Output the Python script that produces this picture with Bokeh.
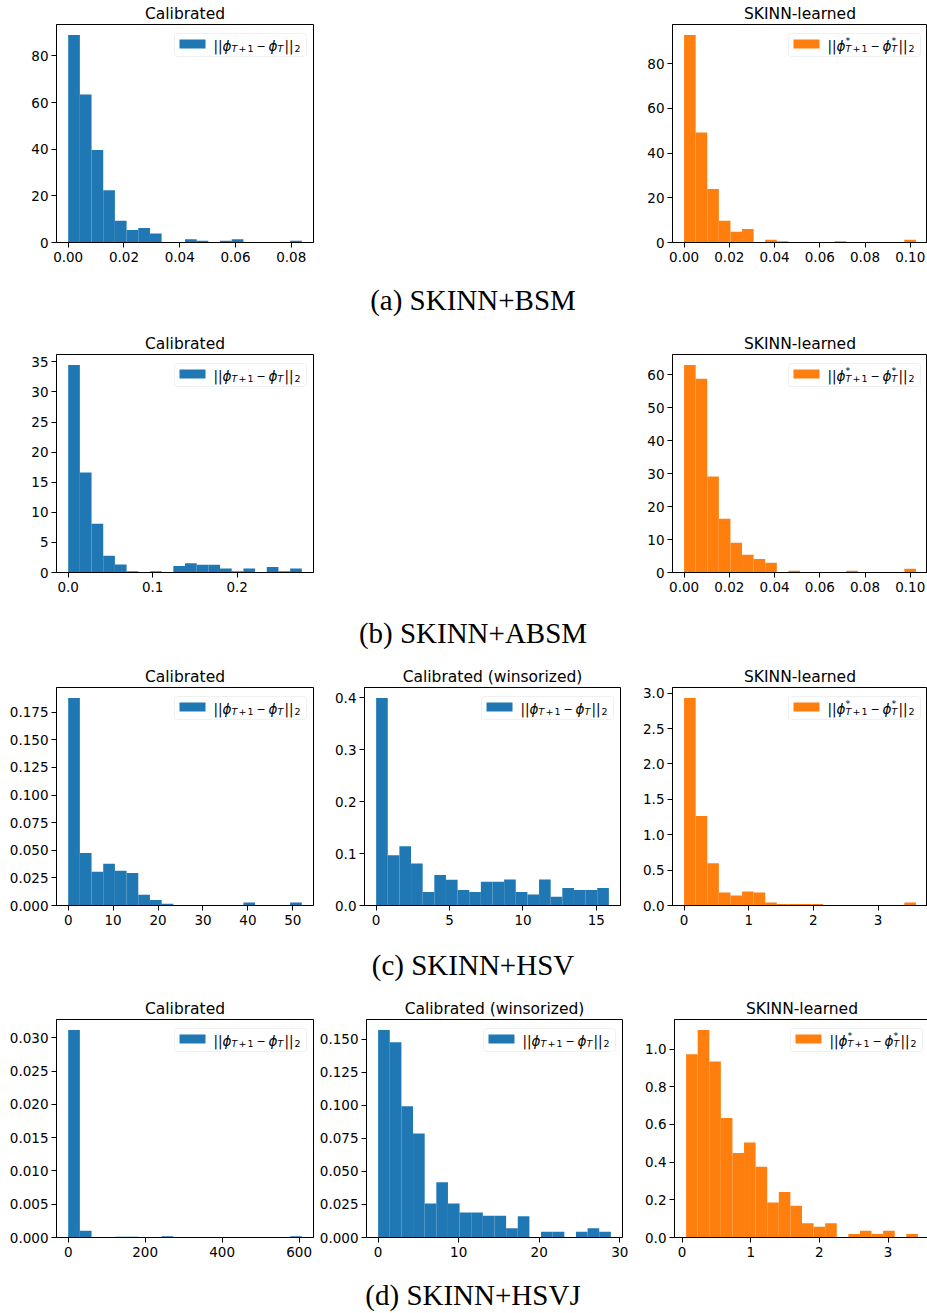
import numpy as np
from bokeh.plotting import figure
from bokeh.layouts import column, row
from bokeh.models import (FixedTicker, PrintfTickFormatter, BoxAnnotation, Label,
                          Div, Spacer, Range1d)
from bokeh.embed import file_html
from bokeh.resources import INLINE

BLUE = "#1f77b4"
ORANGE = "#ff7f0e"
FONT = "DejaVu Sans"

# ---------------- data (histogram densities, 20 equal bins each) ----------------
# (a) SKINN+BSM
a_cal_range = (0.0, 0.0838)
a_cal_density = [89.0, 63.4, 39.6, 22.4, 9.3, 5.4, 6.2, 3.9, 0, 0,
                 1.4, 0.7, 0, 0.7, 1.4, 0, 0, 0, 0, 0.7]
a_skinn_range = (0.0, 0.1025)
a_skinn_density = [92.9, 49.2, 23.9, 9.7, 4.8, 6.0, 0, 1.2, 0.6, 0,
                   0, 0, 0, 0.6, 0, 0, 0, 0, 0, 1.2]
# (b) SKINN+ABSM
b_cal_range = (0.0, 0.2766)
b_cal_density = [34.5, 16.6, 8.1, 2.8, 1.35, 0.22, 0, 0.22, 0, 1.1,
                 1.55, 1.3, 1.3, 0.65, 0.22, 0.65, 0, 0.9, 0.22, 0.65]
b_skinn_range = (0.0, 0.1025)
b_skinn_density = [63.0, 58.8, 29.1, 16.3, 9.05, 5.4, 4.1, 2.95, 0, 0.5,
                   0, 0, 0, 0, 0.5, 0, 0, 0, 0, 1.1]
# (c) SKINN+HSV
c_cal_range = (0.0, 52.0)
c_cal_density = [0.188, 0.0476, 0.0306, 0.0379, 0.0315, 0.0294, 0.0097, 0.0049, 0.0015, 0,
                 0, 0, 0, 0, 0, 0.0027, 0, 0, 0, 0.0027]
c_win_range = (0.0, 15.85)
c_win_density = [0.3995, 0.0966, 0.114, 0.081, 0.026, 0.0586, 0.0496, 0.0296, 0.0258, 0.0457,
                 0.0457, 0.050, 0.0258, 0.0213, 0.050, 0.0168, 0.0335, 0.0296, 0.0296, 0.0335]
c_skinn_range = (0.0, 3.585)
c_skinn_density = [2.934, 1.264, 0.596, 0.185, 0.142, 0.199, 0.185, 0.043, 0.02, 0.02,
                   0.02, 0.02, 0, 0, 0, 0, 0, 0, 0, 0.043]
# (d) SKINN+HSVJ
d_cal_range = (0.0, 607.0)
d_cal_density = [0.0312, 0.00101, 0, 0, 0.0001, 0.0001, 0, 0, 0.0002, 0,
                 0, 0, 0, 0, 0, 0, 0, 0, 0, 0.0002]
d_win_range = (0.0, 28.9)
d_win_density = [0.1569, 0.1475, 0.0992, 0.0786, 0.0257, 0.0417, 0.0257, 0.0188, 0.0188, 0.0165,
                 0.0165, 0.0069, 0.016, 0, 0.0043, 0.0043, 0, 0.0043, 0.0069, 0.0043]
d_skinn_range = (0.058, 3.435)
d_skinn_density = [0.973, 1.102, 0.934, 0.634, 0.448, 0.504, 0.375, 0.186, 0.241, 0.168,
                   0.075, 0.057, 0.075, 0, 0.018, 0.036, 0.018, 0.036, 0, 0.018]

# tick values and label formats
a_cal_xticks, a_cal_yticks = [0, 0.02, 0.04, 0.06, 0.08], [0, 20, 40, 60, 80]
a_skinn_xticks, a_skinn_yticks = [0, 0.02, 0.04, 0.06, 0.08, 0.10], [0, 20, 40, 60, 80]
b_cal_xticks, b_cal_yticks = [0, 0.1, 0.2], [0, 5, 10, 15, 20, 25, 30, 35]
b_skinn_xticks, b_skinn_yticks = [0, 0.02, 0.04, 0.06, 0.08, 0.10], [0, 10, 20, 30, 40, 50, 60]
c_cal_xticks, c_cal_yticks = [0, 10, 20, 30, 40, 50], [0, 0.025, 0.05, 0.075, 0.1, 0.125, 0.15, 0.175]
c_win_xticks, c_win_yticks = [0, 5, 10, 15], [0, 0.1, 0.2, 0.3, 0.4]
c_skinn_xticks, c_skinn_yticks = [0, 1, 2, 3], [0, 0.5, 1.0, 1.5, 2.0, 2.5, 3.0]
d_cal_xticks, d_cal_yticks = [0, 200, 400, 600], [0, 0.005, 0.01, 0.015, 0.02, 0.025, 0.03]
d_win_xticks, d_win_yticks = [0, 10, 20, 30], [0, 0.025, 0.05, 0.075, 0.1, 0.125, 0.15]
d_skinn_xticks, d_skinn_yticks = [0, 1, 2, 3], [0, 0.2, 0.4, 0.6, 0.8, 1.0]

titles = ["Calibrated", "Calibrated (winsorized)", "SKINN-learned"]
captions = ["(a) SKINN+BSM", "(b) SKINN+ABSM", "(c) SKINN+HSV", "(d) SKINN+HSVJ"]

# ---------------- layout constants ----------------
FH = 218
COLS = [  # (min_border_left, frame_width, min_border_right)
    (56, 257, 3),
    (48, 256, 7),
    (45, 255, 0),
]

BLUE_PIECES = [("||", 0, "main", "normal"), ("ϕ", 9, "main", "italic"),
               ("T", 18, "sub", "italic"), ("+", 25, "sub", "normal"),
               ("1", 34, "sub", "normal"),
               ("−", 43, "minus", "normal"), ("ϕ", 55, "main", "italic"),
               ("T", 64, "sub", "italic"), ("||", 71, "main", "normal"),
               ("2", 81, "sub", "normal")]
ORANGE_PIECES = BLUE_PIECES[:2] + [("*", 18, "sup", "normal")] + BLUE_PIECES[2:7] + \
    [("*", 64, "sup", "normal")] + BLUE_PIECES[7:]


def add_legend(p, x0, x1, y0, y1, fw, fh, color, pieces):
    sx = (x1 - x0) / fw
    sy = (y1 - y0) / fh
    X = lambda px: x1 - px * sx
    Y = lambda py: y1 - py * sy
    p.add_layout(BoxAnnotation(left=X(139), right=X(7), top=Y(9), bottom=Y(32),
                               fill_color="white", fill_alpha=0.8,
                               line_color="#cccccc", line_width=1, border_radius=3))
    p.add_layout(BoxAnnotation(left=X(134), right=X(108), top=Y(15), bottom=Y(24),
                               fill_color=color, fill_alpha=1.0, line_color=None))
    base = 100
    specs = {"main": ("13.5px", 21), "sub": ("9.5px", 24), "sup": ("9.5px", 16),
             "minus": ("11px", 21)}
    for txt, dx, kind, style in pieces:
        size, dy = specs[kind]
        p.add_layout(Label(x=X(base - dx), y=Y(dy), text=txt, text_font=FONT,
                           text_font_size=size, text_font_style=style,
                           text_baseline="middle", text_align="left", text_color="black"))


def make_hist(col, title, density, rng, color, xticks, xfmt, yticks, yfmt, star):
    bl, fw, br = COLS[col]
    lo, hi = rng
    edges = np.linspace(lo, hi, len(density) + 1)
    w = hi - lo
    x0, x1 = lo - 0.05 * w, hi + 0.05 * w
    y0, y1 = 0.0, max(density) * 1.05
    p = figure(frame_width=fw, frame_height=FH, min_border_left=bl, min_border_right=br,
               min_border_top=24, min_border_bottom=30,
               x_range=Range1d(x0, x1), y_range=Range1d(y0, y1),
               output_backend="svg", toolbar_location=None, title=title)
    p.quad(left=edges[:-1], right=edges[1:], bottom=0, top=density,
           fill_color=color, line_color=None)
    p.title.align = "center"
    p.title.text_font = FONT
    p.title.text_font_size = "15.5px"
    p.title.text_font_style = "normal"
    p.title.text_color = "black"
    p.title.standoff = 4
    p.xgrid.visible = False
    p.ygrid.visible = False
    p.outline_line_color = "black"
    p.outline_line_width = 1
    p.outline_line_alpha = 1
    p.background_fill_color = "white"
    p.border_fill_color = "white"
    for ax, ticks, fmt, so in ((p.xaxis, xticks, xfmt, 4), (p.yaxis, yticks, yfmt, 3)):
        ax.ticker = FixedTicker(ticks=ticks)
        ax.formatter = PrintfTickFormatter(format=fmt)
        ax.major_label_text_font = FONT
        ax.major_label_text_font_size = "13.5px"
        ax.major_label_text_color = "black"
        ax.major_label_standoff = so
        ax.axis_line_color = "black"
        ax.major_tick_line_color = "black"
        ax.major_tick_out = 5
        ax.major_tick_in = 0
        ax.minor_tick_out = 0
        ax.minor_tick_in = 0
        ax.minor_tick_line_color = None
    add_legend(p, x0, x1, y0, y1, fw, FH, color, ORANGE_PIECES if star else BLUE_PIECES)
    return p


def caption(text, h, center):
    html = ('<div style="width:927px;height:%dpx;line-height:%dpx;text-align:center;'
            'padding-left:19px;box-sizing:border-box;font-family:\'Liberation Serif\';'
            'font-size:29px;color:black;white-space:nowrap;overflow:visible;">%s</div>') % (
                h, 2 * center, text)
    return Div(text=html, width=927, height=h, margin=(0, 0, 0, 0))


pa1 = make_hist(0, titles[0], a_cal_density, a_cal_range, BLUE, a_cal_xticks, "%.2f", a_cal_yticks, "%d", False)
pa3 = make_hist(2, titles[2], a_skinn_density, a_skinn_range, ORANGE, a_skinn_xticks, "%.2f", a_skinn_yticks, "%d", True)
pb1 = make_hist(0, titles[0], b_cal_density, b_cal_range, BLUE, b_cal_xticks, "%.1f", b_cal_yticks, "%d", False)
pb3 = make_hist(2, titles[2], b_skinn_density, b_skinn_range, ORANGE, b_skinn_xticks, "%.2f", b_skinn_yticks, "%d", True)
pc1 = make_hist(0, titles[0], c_cal_density, c_cal_range, BLUE, c_cal_xticks, "%d", c_cal_yticks, "%.3f", False)
pc2 = make_hist(1, titles[1], c_win_density, c_win_range, BLUE, c_win_xticks, "%d", c_win_yticks, "%.1f", False)
pc3 = make_hist(2, titles[2], c_skinn_density, c_skinn_range, ORANGE, c_skinn_xticks, "%d", c_skinn_yticks, "%.1f", True)
pd1 = make_hist(0, titles[0], d_cal_density, d_cal_range, BLUE, d_cal_xticks, "%d", d_cal_yticks, "%.3f", False)
pd2 = make_hist(1, titles[1], d_win_density, d_win_range, BLUE, d_win_xticks, "%d", d_win_yticks, "%.3f", False)
pd3 = make_hist(2, titles[2], d_skinn_density, d_skinn_range, ORANGE, d_skinn_xticks, "%d", d_skinn_yticks, "%.1f", True)

layout = column(
    row(pa1, Spacer(width=311, height=272), pa3),
    caption(captions[0], 58, 28),
    row(pb1, Spacer(width=311, height=272), pb3),
    caption(captions[1], 61, 31),
    row(pc1, pc2, pc3),
    caption(captions[2], 60, 30),
    row(pd1, pd2, pd3),
    caption(captions[3], 46, 28),
)

open("out.html", "w").write(file_html(layout, INLINE))
